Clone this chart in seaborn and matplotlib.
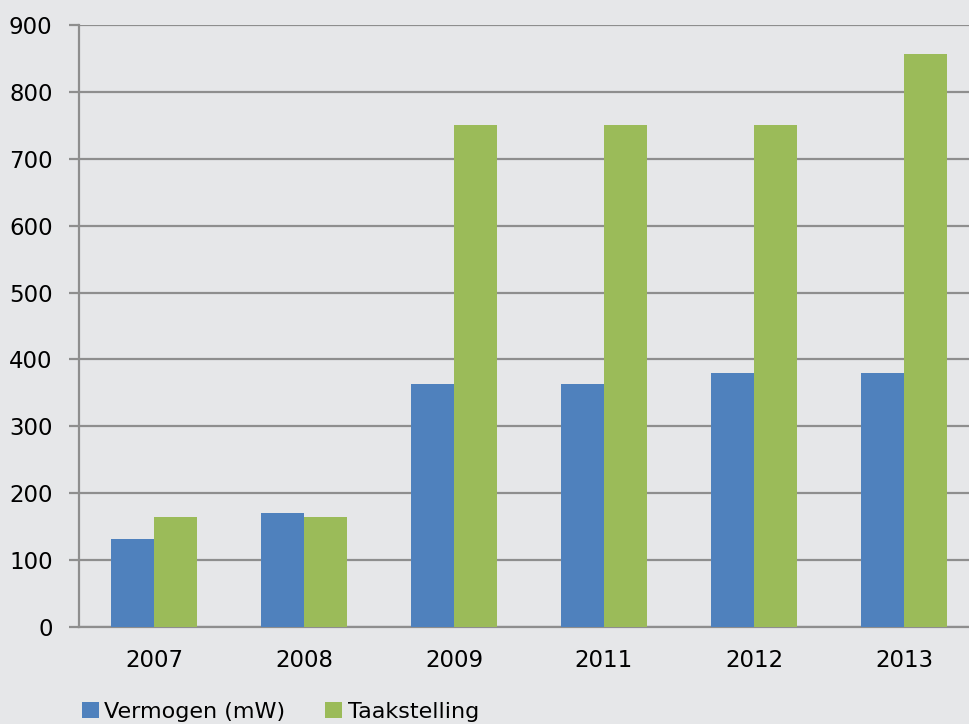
import pandas as pd
import numpy as np
import seaborn as sns
import matplotlib.pyplot as plt

# data
jaren = ['2007', '2008', '2009', '2011', '2012', '2013']
vermogen = [132, 170, 363, 364, 379, 380]
taakstelling = [164, 164, 750, 750, 750, 856]

df = pd.DataFrame({
    'jaar': jaren * 2,
    'waarde': vermogen + taakstelling,
    'reeks': ['Vermogen (mW)'] * len(jaren) + ['Taakstelling'] * len(jaren),
})

bg = '#E6E7E9'
grijs = '#8E8E8E'

sns.set_style('white')
plt.rcParams['font.family'] = ['DejaVu Sans']
plt.rcParams['text.color'] = 'black'
plt.rcParams['xtick.labelcolor'] = 'black'
plt.rcParams['ytick.labelcolor'] = 'black'

fig = plt.figure(figsize=(9.7, 7.24), dpi=100, facecolor=bg)
ax = fig.add_axes([79 / 970, 1 - 627 / 724, 900 / 970, (627 - 25) / 724])
ax.set_facecolor(bg)

sns.barplot(data=df, x='jaar', y='waarde', hue='reeks',
            palette=['#4F81BD', '#9BBB59'], width=0.573, gap=0,
            linewidth=0, saturation=1, ax=ax, zorder=3)

ax.set_ylim(0, 900)
ax.set_xlim(-0.5, 5.5)
ax.set_yticks(np.arange(0, 901, 100))
ax.yaxis.grid(True, color=grijs, linewidth=1.6, zorder=0)
ax.set_axisbelow(True)

# tick marks op de grenzen, labels in het midden
ax.set_xticks(np.arange(-0.5, 6, 1))
ax.set_xticklabels([])
ax.set_xticks(np.arange(len(jaren)), minor=True)
ax.set_xticklabels(jaren, minor=True)
ax.tick_params(axis='x', which='major', length=7, width=1.6, color=grijs, direction='out')
ax.tick_params(axis='x', which='minor', length=0, pad=16, labelsize=16.5, labelcolor='black')
ax.tick_params(axis='y', length=7, width=1.6, color=grijs, pad=12, labelsize=16.5,
               left=True, labelcolor='black')

for s in ['top', 'right']:
    ax.spines[s].set_visible(False)
for s in ['left', 'bottom']:
    ax.spines[s].set_color(grijs)
    ax.spines[s].set_linewidth(1.6)

ax.set_xlabel('')
ax.set_ylabel('')

ax.legend_.remove()
handles, labels = ax.get_legend_handles_labels()
leg = fig.legend(handles, labels, loc='lower left', bbox_to_anchor=(62 / 970, -18 / 724),
                 ncol=2, frameon=False, fontsize=16, handlelength=0.75, handleheight=0.75,
                 handletextpad=0.25, columnspacing=1.8)
for t in leg.get_texts():
    t.set_color('black')

plt.savefig('out.png', dpi=100, facecolor=bg)
